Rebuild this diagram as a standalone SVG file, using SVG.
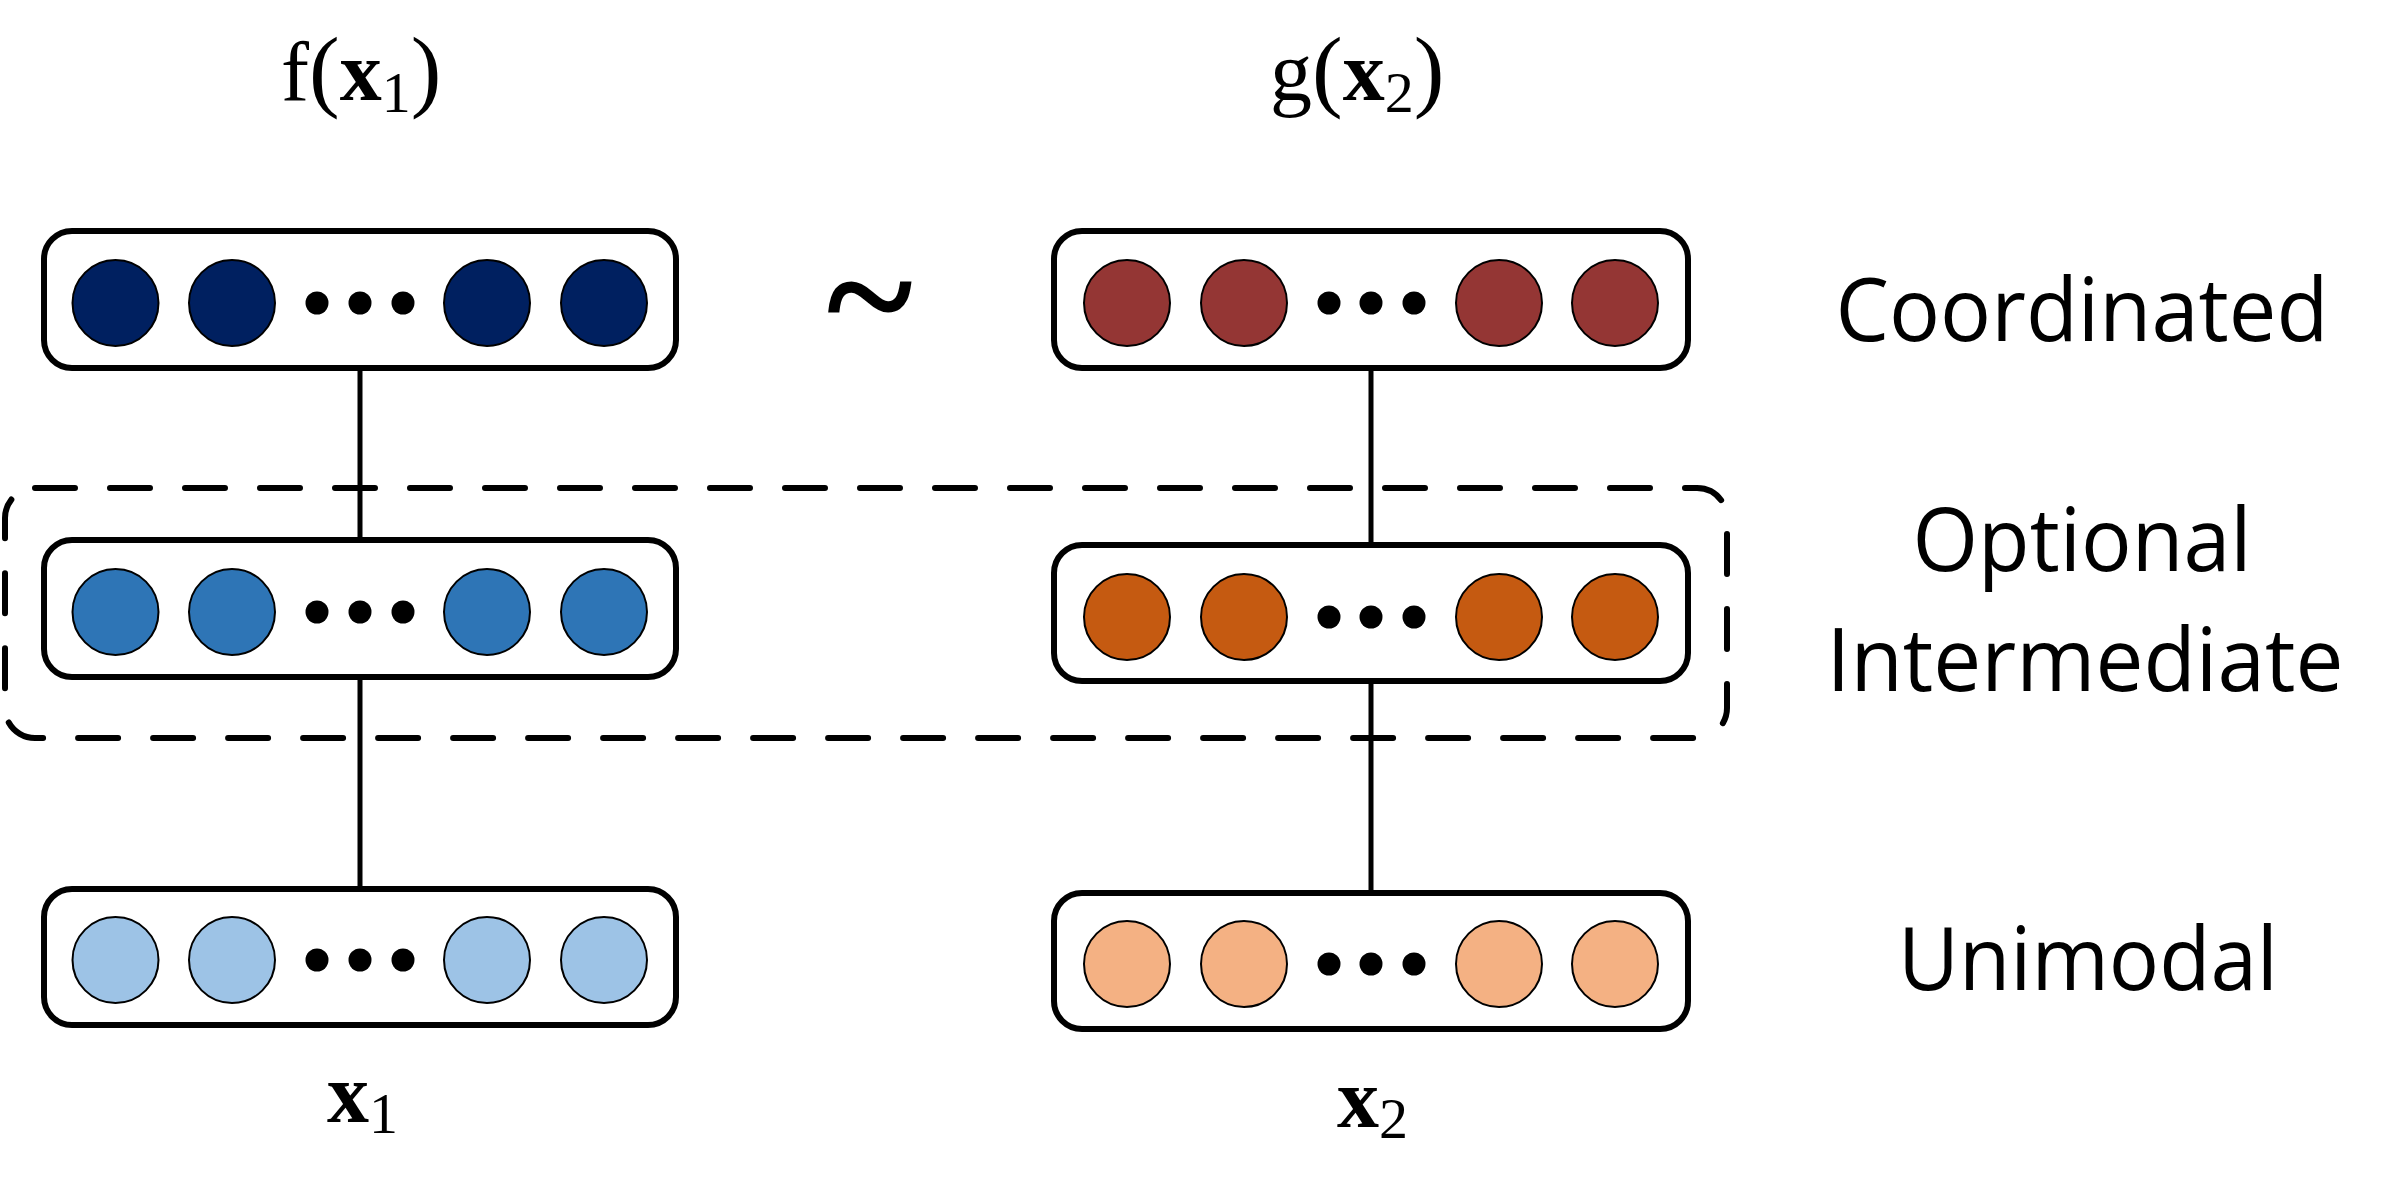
<svg xmlns="http://www.w3.org/2000/svg" width="2400" height="1188" viewBox="0 0 2400 1188">
<defs>
<style>
.box{fill:#ffffff;stroke:#000;stroke-width:6}
.c{stroke:#000;stroke-width:2}
.dot{fill:#000}
.conn{stroke:#000;stroke-width:5;fill:none}
.dash{fill:none;stroke:#000;stroke-width:6;stroke-dasharray:40 35;stroke-linecap:round}
.math{font-family:"Liberation Serif","Times New Roman",serif;font-size:84px;fill:#000}
.sub{font-size:58px}
.par{font-size:92px}
.tilde{font-family:"Liberation Serif","Times New Roman",serif;font-size:165px;font-weight:normal;fill:#000;stroke:#000;stroke-width:3;text-anchor:middle}
.lbl{font-family:"Open Sans","Noto Sans",sans-serif;font-size:88px;fill:#000;text-anchor:middle}
.navy{fill:#002060}.blue{fill:#2E75B6}.lblue{fill:#9DC3E6}
.brick{fill:#943634}.orange{fill:#C55A11}.peach{fill:#F4B183}
</style>
</defs>
<rect width="2400" height="1188" fill="#fff"/>

<g id="connectors">
<line class="conn" x1="360" y1="368" x2="360" y2="540"/>
<line class="conn" x1="360" y1="677" x2="360" y2="889"/>
<line class="conn" x1="1371" y1="368" x2="1371" y2="545"/>
<line class="conn" x1="1371" y1="681" x2="1371" y2="893"/>
</g>

<g id="optional-group">
<path class="dash" d="M 35 488 L 1697 488 A 30 30 0 0 1 1727 518 L 1727 708 A 30 30 0 0 1 1697 738 L 35 738 A 30 30 0 0 1 5 708 L 5 518 A 30 30 0 0 1 35 488 Z"/>
</g>

<g id="f-coordinated">
<rect class="box" x="44" y="231" width="632" height="137" rx="28"/>
<circle class="c navy" cx="115.5" cy="303" r="43"/>
<circle class="c navy" cx="232" cy="303" r="43"/>
<circle class="dot" cx="317" cy="303" r="11.5"/>
<circle class="dot" cx="360" cy="303" r="11.5"/>
<circle class="dot" cx="403" cy="303" r="11.5"/>
<circle class="c navy" cx="487" cy="303" r="43"/>
<circle class="c navy" cx="604" cy="303" r="43"/>
</g>

<g id="f-intermediate">
<rect class="box" x="44" y="540" width="632" height="137" rx="28"/>
<circle class="c blue" cx="115.5" cy="612" r="43"/>
<circle class="c blue" cx="232" cy="612" r="43"/>
<circle class="dot" cx="317" cy="612" r="11.5"/>
<circle class="dot" cx="360" cy="612" r="11.5"/>
<circle class="dot" cx="403" cy="612" r="11.5"/>
<circle class="c blue" cx="487" cy="612" r="43"/>
<circle class="c blue" cx="604" cy="612" r="43"/>
</g>

<g id="f-unimodal">
<rect class="box" x="44" y="889" width="632" height="136" rx="28"/>
<circle class="c lblue" cx="115.5" cy="960" r="43"/>
<circle class="c lblue" cx="232" cy="960" r="43"/>
<circle class="dot" cx="317" cy="960" r="11.5"/>
<circle class="dot" cx="360" cy="960" r="11.5"/>
<circle class="dot" cx="403" cy="960" r="11.5"/>
<circle class="c lblue" cx="487" cy="960" r="43"/>
<circle class="c lblue" cx="604" cy="960" r="43"/>
</g>

<g id="g-coordinated">
<rect class="box" x="1054" y="231" width="634" height="137" rx="28"/>
<circle class="c brick" cx="1127" cy="303" r="43"/>
<circle class="c brick" cx="1244" cy="303" r="43"/>
<circle class="dot" cx="1329" cy="303" r="11.5"/>
<circle class="dot" cx="1371" cy="303" r="11.5"/>
<circle class="dot" cx="1414" cy="303" r="11.5"/>
<circle class="c brick" cx="1499" cy="303" r="43"/>
<circle class="c brick" cx="1615" cy="303" r="43"/>
</g>

<g id="g-intermediate">
<rect class="box" x="1054" y="545" width="634" height="136" rx="28"/>
<circle class="c orange" cx="1127" cy="617" r="43"/>
<circle class="c orange" cx="1244" cy="617" r="43"/>
<circle class="dot" cx="1329" cy="617" r="11.5"/>
<circle class="dot" cx="1371" cy="617" r="11.5"/>
<circle class="dot" cx="1414" cy="617" r="11.5"/>
<circle class="c orange" cx="1499" cy="617" r="43"/>
<circle class="c orange" cx="1615" cy="617" r="43"/>
</g>

<g id="g-unimodal">
<rect class="box" x="1054" y="893" width="634" height="136" rx="28"/>
<circle class="c peach" cx="1127" cy="964" r="43"/>
<circle class="c peach" cx="1244" cy="964" r="43"/>
<circle class="dot" cx="1329" cy="964" r="11.5"/>
<circle class="dot" cx="1371" cy="964" r="11.5"/>
<circle class="dot" cx="1414" cy="964" r="11.5"/>
<circle class="c peach" cx="1499" cy="964" r="43"/>
<circle class="c peach" cx="1615" cy="964" r="43"/>
</g>

<g id="math-labels">
<text class="math" x="281" y="100">f<tspan class="par">(</tspan><tspan font-weight="bold">x</tspan><tspan class="sub" dy="12">1</tspan><tspan class="par" dy="-12">)</tspan></text>
<text class="math" x="1270" y="100">g<tspan class="par">(</tspan><tspan font-weight="bold">x</tspan><tspan class="sub" dy="12">2</tspan><tspan class="par" dy="-12">)</tspan></text>
<text class="math" x="327" y="1122"><tspan font-weight="bold">x</tspan><tspan class="sub" dy="11">1</tspan></text>
<text class="math" x="1337" y="1127"><tspan font-weight="bold">x</tspan><tspan class="sub" dy="11">2</tspan></text>
<text class="tilde" x="870" y="352">~</text>
</g>

<g id="level-labels">
<text class="lbl" x="2082" y="341" textLength="493" lengthAdjust="spacingAndGlyphs">Coordinated</text>
<text class="lbl" x="2082" y="571" textLength="339" lengthAdjust="spacingAndGlyphs">Optional</text>
<text class="lbl" x="2085" y="691" textLength="517" lengthAdjust="spacingAndGlyphs">Intermediate</text>
<text class="lbl" x="2088" y="990" textLength="380" lengthAdjust="spacingAndGlyphs">Unimodal</text>
</g>
</svg>
